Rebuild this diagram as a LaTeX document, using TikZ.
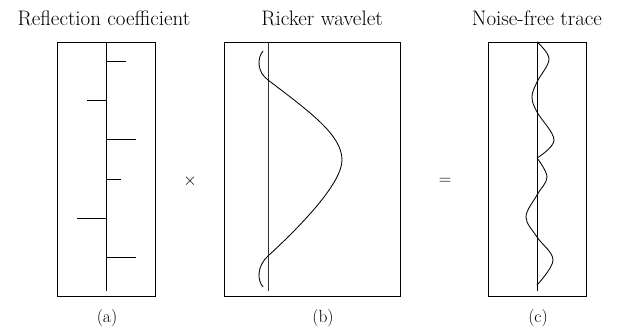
\documentclass[tikz,border=0pt]{standalone}
\begin{document}
\begin{tikzpicture}[x=1pt,y=-1pt,
  panel/.style={draw,line width=0.9pt,inner sep=0pt,minimum width=98pt,minimum height=254pt},
  ttl/.style={font=\fontsize{21}{23}\selectfont,inner sep=0pt,anchor=base},
  sub/.style={font=\fontsize{17.5}{20}\selectfont,inner sep=0pt,anchor=base},
  op/.style={font=\fontsize{17}{20}\selectfont,inner sep=0pt},
  axis/.style={line width=0.9pt},
  spike/.style={line width=0.85pt},
  wave/.style={line width=0.85pt},
  swave/.style={wave,smooth,tension=0.6}]
\useasboundingbox (0,0) rectangle (618,332);
% panels
\node[panel] (pa) at (106,169) {};
\node[panel,minimum width=176pt] (pb) at (312,169) {};
\node[panel] (pc) at (537,169) {};
% titles
\node[ttl] (ta) at (104,25) {Reflection coefficient};
\node[ttl] (tb) at (322,25) {Ricker wavelet};
\node[ttl] (tc) at (537,25) {Noise-free trace};
% sub labels
\node[sub] (la) at (107,322) {(a)};
\node[sub] (lb) at (323,322) {(b)};
\node[sub] (lc) at (538,322) {(c)};
% operators
\node[op] (times) at (190,181) {$\times$};
\node[op] (eq) at (445,181) {$=$};
% axes
\coordinate (ea) at (106,291);
\coordinate (eb) at (268,291);
\coordinate (ec) at (537,291);
\draw[axis] (pa.north -| ea) -- (ea);
\draw[axis,black!80] (pb.north -| eb) -- (eb);
\draw[axis] (pc.north -| ec) -- (ec);
% spikes
\foreach \yy/\xx in {61/126,100/87,139/136,179/121,218/77,257/136}
  \draw[spike] (106,\yy) -- (\xx,\yy);
% Ricker wavelet
\draw[wave] (263,51) .. controls (257,58) and (257,72) .. (268,80)
  .. controls (310,112) and (342,135) .. (342,160)
  .. controls (342,182) and (305,222) .. (268,256)
  .. controls (257,266) and (257,280) .. (263,287);
% trace
\draw[swave] plot coordinates {(537,42) (549,59) (537,82) (532,97) (537,112) (554,140) (537,158)};
\draw[swave] plot coordinates {(537,158) (547,177) (537,195) (526,217) (537,237) (553,260) (537,285)};
\end{tikzpicture}
\end{document}
